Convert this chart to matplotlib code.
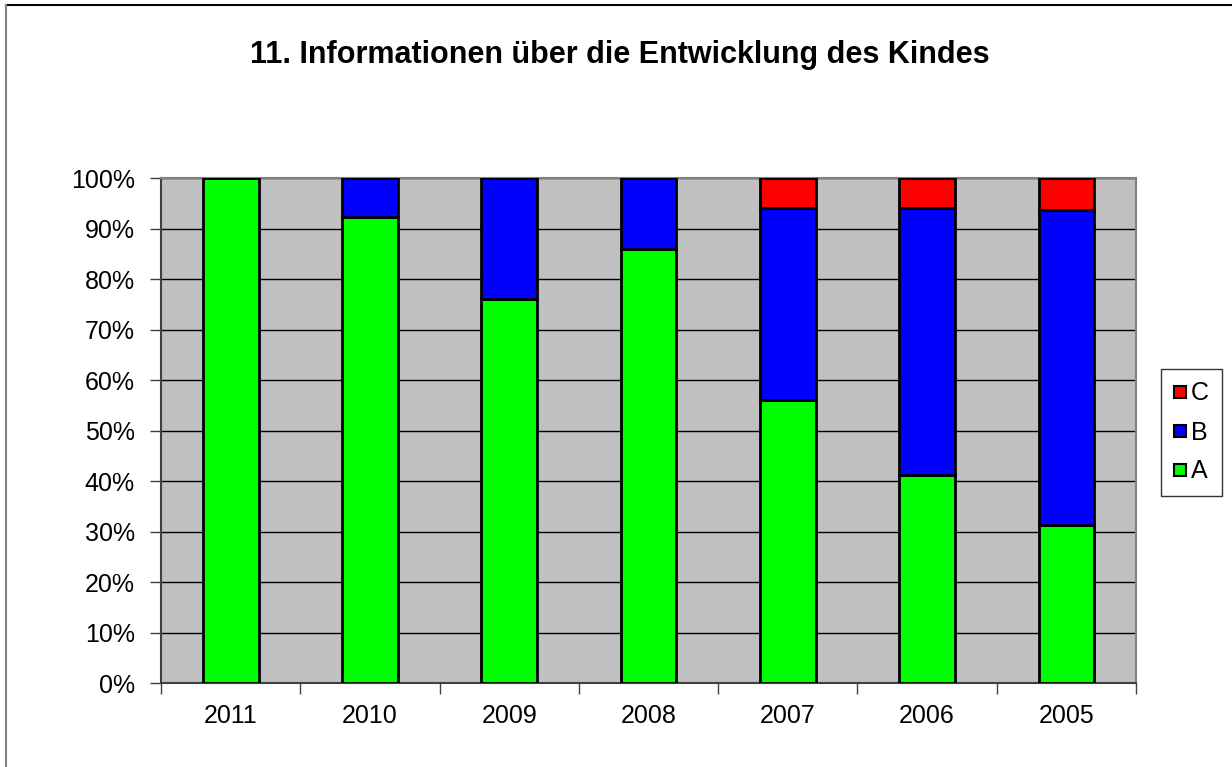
import matplotlib.pyplot as plt
import matplotlib.lines as mlines
from matplotlib.ticker import PercentFormatter
import numpy as np

plt.rcParams['font.family'] = ['Liberation Sans', 'DejaVu Sans']

# data (percent)
years = ['2011', '2010', '2009', '2008', '2007', '2006', '2005']
a_vals = [100, 92.3, 76.0, 85.9, 56.0, 41.2, 31.25]
b_vals = [0, 7.7, 24.0, 14.1, 38.0, 52.9, 62.5]
c_vals = [0, 0, 0, 0, 6.0, 5.9, 6.25]

fig = plt.figure(figsize=(12.32, 7.67), dpi=100)
ax = fig.add_axes([0.1307, 0.1095, 0.7914, 0.6584])
ax.set_facecolor('#C0C0C0')

x = np.arange(len(years))
a = np.array(a_vals)
b = np.array(b_vals)
c = np.array(c_vals)
w = 0.4
ax.bar(x, a, w, color='#00FF00', edgecolor='black', linewidth=2, zorder=3, label='A')
ax.bar(x, b, w, bottom=a, color='#0000FF', edgecolor='black', linewidth=2, zorder=3, label='B')
ax.bar(x, c, w, bottom=a + b, color='#FF0000', edgecolor='black', linewidth=2, zorder=3, label='C')

ax.set_xlim(-0.5, len(years) - 0.5)
ax.set_ylim(0, 100)
ax.set_yticks(np.arange(0, 101, 10))
ax.yaxis.set_major_formatter(PercentFormatter(decimals=0))
ax.yaxis.grid(True, color='black', linewidth=1, zorder=1)

# category labels in the middle, tick marks at the boundaries
ax.set_xticks(x)
ax.set_xticklabels(years)
ax.tick_params(axis='x', which='major', length=0, pad=15, labelsize=18)
ax.set_xticks(np.arange(-0.5, len(years)), minor=True)
ax.tick_params(axis='x', which='minor', length=8, width=1, color='#404040', direction='out')
ax.tick_params(axis='y', length=8, width=1, color='#404040', direction='out', labelsize=18, pad=11)

for s in ['top', 'right']:
    ax.spines[s].set_color('#808080')
    ax.spines[s].set_linewidth(1.5)
for s in ['left', 'bottom']:
    ax.spines[s].set_color('#404040')
    ax.spines[s].set_linewidth(1.5)

fig.text(0.503, 1 - 63 / 767, '11. Informationen über die Entwicklung des Kindes',
         ha='center', va='baseline', fontsize=22, fontweight='bold')

handles = [mlines.Line2D([], [], linestyle='none', marker='s', markersize=8.5,
                         markerfacecolor=col, markeredgecolor='black', markeredgewidth=1.5, label=lab)
           for col, lab in [('#FF0000', 'C'), ('#0000FF', 'B'), ('#00FF00', 'A')]]
leg = fig.legend(handles=handles, loc='upper left', bbox_to_anchor=(1161 / 1232, 1 - 369 / 767),
                 frameon=True, fancybox=False, edgecolor='black', fontsize=18,
                 handlelength=0.5, handletextpad=0.2, labelspacing=0.6, borderpad=0.5,
                 borderaxespad=0)
leg.get_frame().set_linewidth(1)

# outer chart frame (top and left visible)
fig.add_artist(mlines.Line2D([6 / 1232, 1], [1 - 5 / 767, 1 - 5 / 767], color='black', linewidth=1.5))
fig.add_artist(mlines.Line2D([6 / 1232, 6 / 1232], [0, 1 - 5 / 767], color='#808080', linewidth=1.5))

fig.savefig('out.png', dpi=100)
